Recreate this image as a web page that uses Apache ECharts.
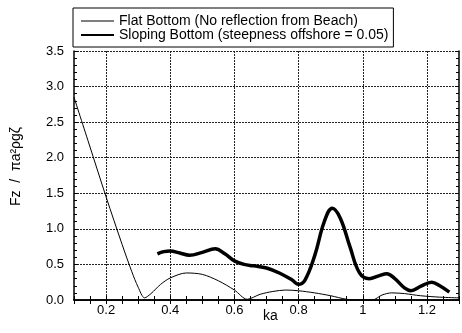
<!DOCTYPE html>
<html>
<head>
<meta charset="utf-8">
<script src="https://cdn.jsdelivr.net/npm/echarts@6/dist/echarts.min.js"></script>
<style>
  html, body { margin: 0; padding: 0; background: #fff; }
  #main { width: 462px; height: 333px; }
</style>
</head>
<body>
<div id="main"></div>
<script>
// data
const flatName = 'Flat Bottom (No reflection from Beach)'
const slopeName = 'Sloping Bottom (steepness offshore = 0.05)'

const flatKa = [0.1, 0.15, 0.2, 0.25, 0.28, 0.3, 0.32, 0.34, 0.37, 0.4, 0.45, 0.5, 0.55, 0.6, 0.64, 0.68, 0.72, 0.76, 0.8, 0.85, 0.9, 0.95, 1.0, 1.03, 1.06, 1.09, 1.13, 1.18, 1.24, 1.3]
const flatFz = [2.85, 2.15, 1.45, 0.78, 0.40, 0.18, 0.03, 0.09, 0.22, 0.31, 0.38, 0.36, 0.27, 0.14, 0.01, 0.08, 0.12, 0.14, 0.13, 0.10, 0.06, 0.01, 0.0, 0.0, 0.07, 0.10, 0.09, 0.06, 0.04, 0.03]

const slopeKa = [0.36, 0.38, 0.4, 0.43, 0.46, 0.5, 0.54, 0.57, 0.6, 0.63, 0.66, 0.7, 0.74, 0.78, 0.8, 0.82, 0.85, 0.88, 0.905, 0.93, 0.96, 0.99, 1.02, 1.05, 1.075, 1.1, 1.13, 1.15, 1.18, 1.215, 1.24, 1.27]
const slopeFz = [0.65, 0.68, 0.69, 0.66, 0.63, 0.67, 0.72, 0.65, 0.55, 0.50, 0.48, 0.45, 0.38, 0.28, 0.22, 0.28, 0.62, 1.10, 1.29, 1.15, 0.75, 0.38, 0.30, 0.34, 0.37, 0.30, 0.17, 0.13, 0.19, 0.25, 0.20, 0.11]

const xMin = 0.1, xMax = 1.3
const yMin = 0, yMax = 3.5

const font = 'Liberation Sans, Arial, sans-serif'

const pairs = (xs, ys) => xs.map((x, i) => [x, ys[i]])

const chart = echarts.init(document.getElementById('main'), null, { renderer: 'canvas' })

// common axis bits
const axisLine = { show: true, lineStyle: { color: '#000', width: 1.5 } }
const tickIn = { show: true, inside: true, length: 4, lineStyle: { color: '#000' } }

chart.setOption({
  backgroundColor: '#fff',
  animation: false,
  textStyle: { fontFamily: font },
  legend: {
    left: 73,
    top: 8,
    orient: 'vertical',
    padding: [6, 5, 5, 8],
    itemGap: 0,
    itemWidth: 33,
    itemHeight: 12,
    borderColor: '#000',
    borderWidth: 1,
    textStyle: { fontFamily: font, fontSize: 14, lineHeight: 12, color: '#000' },
    // plain line icons, thin and thick
    data: [
      { name: flatName, icon: 'path://M0,0H33V1H0Z' },
      { name: slopeName, icon: 'path://M0,0H33V2H0Z' }
    ]
  },
  grid: { left: 74, right: 2, top: 51, bottom: 33 },
  xAxis: [
    {
      type: 'value', min: xMin, max: xMax, interval: 0.1,
      name: 'ka', nameLocation: 'middle', nameGap: 9, nameMoveOverlap: false,
      nameTextStyle: { fontFamily: font, fontSize: 14, color: '#000', padding: [0, 0, 0, 8] },
      axisLine: axisLine,
      axisTick: tickIn,
      minorTick: { show: true, splitNumber: 2, length: 4, lineStyle: { color: '#000' } },
      axisLabel: {
        margin: 4, fontSize: 13, color: '#000', fontFamily: font,
        formatter: v => (Math.round(v * 10) % 2 === 0 ? String(Math.round(v * 10) / 10) : '')
      },
      // only every second line (0.2, 0.4 ...) is drawn
      splitLine: { show: true, lineStyle: { color: ['rgba(0,0,0,0)', '#222'], type: [2, 1], width: 1 } }
    },
    {
      type: 'value', min: xMin, max: xMax, interval: 0.1, position: 'top',
      axisLine: axisLine,
      axisTick: tickIn,
      minorTick: { show: true, splitNumber: 2, length: 4, lineStyle: { color: '#000' } },
      axisLabel: { show: false },
      splitLine: { show: false }
    }
  ],
  yAxis: [
    {
      type: 'value', min: yMin, max: yMax, interval: 0.5,
      name: 'Fz  /  πa²ρgζ', nameLocation: 'middle', nameGap: 51, nameRotate: 90, nameMoveOverlap: false,
      nameTextStyle: { fontFamily: font, fontSize: 14, color: '#000', padding: [0, 0, 0, 18] },
      axisLine: axisLine,
      axisTick: tickIn,
      minorTick: { show: true, splitNumber: 5, length: 3, lineStyle: { color: '#000' } },
      axisLabel: { margin: 10, fontSize: 13, color: '#000', fontFamily: font, formatter: v => v.toFixed(1) },
      splitLine: { show: true, lineStyle: { color: '#222', type: [2, 1], width: 1 } }
    },
    {
      type: 'value', min: yMin, max: yMax, interval: 0.5, position: 'right',
      axisLine: axisLine,
      axisTick: tickIn,
      minorTick: { show: true, splitNumber: 5, length: 3, lineStyle: { color: '#000' } },
      axisLabel: { show: false },
      splitLine: { show: false }
    }
  ],
  series: [
    {
      name: flatName,
      type: 'line',
      data: pairs(flatKa, flatFz),
      symbol: 'none',
      smooth: 0.3,
      lineStyle: { color: '#000', width: 1 },
      itemStyle: { color: '#000' }
    },
    {
      name: slopeName,
      type: 'line',
      data: pairs(slopeKa, slopeFz),
      symbol: 'none',
      smooth: 0.4,
      lineStyle: { color: '#000', width: 3.5 },
      itemStyle: { color: '#000' }
    }
  ]
})
</script>
</body>
</html>
